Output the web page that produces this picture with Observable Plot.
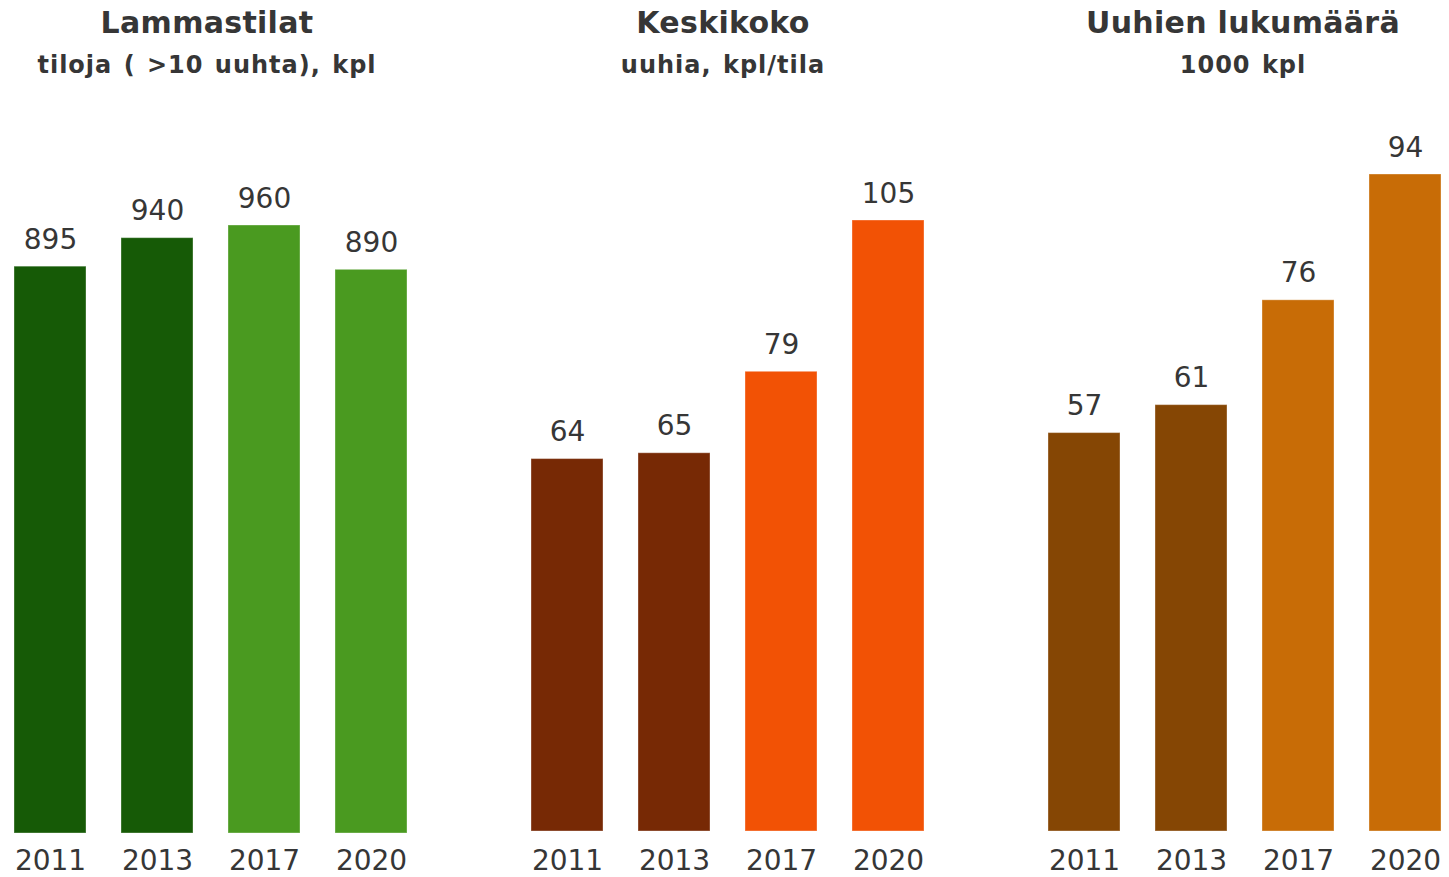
<!DOCTYPE html>
<html>
<head>
<meta charset="utf-8">
<script src="https://cdn.jsdelivr.net/npm/d3@7"></script>
<script src="https://cdn.jsdelivr.net/npm/@observablehq/plot@0.6"></script>
<style>
  body { margin: 0; background: #fff; }
  #wrap { position: relative; width: 1449px; height: 877px; overflow: hidden;
          font-family: "DejaVu Sans", Verdana, sans-serif; color: #363636; }
  .head { position: absolute; top: 0; width: 480px; height: 100px; text-align: center; }
  .title { position: absolute; left: 0; right: 0; top: 8px; font-size: 30px; line-height: 30px; font-weight: bold; letter-spacing: 0.3px; }
  .sub { position: absolute; left: 0; right: 0; top: 53px; font-size: 24px; line-height: 24px; font-weight: bold; letter-spacing: 1px; word-spacing: 2px; }
  .panel { position: absolute; top: 100px; width: 483px; height: 777px; }
  .panel svg { overflow: visible; }
</style>
</head>
<body>
<div id="wrap"></div>
<script>
// ---- data ----
const years = ["2011", "2013", "2017", "2020"];
const farms = [895, 940, 960, 890];          // Lammastilat, tiloja (>10 uuhta), kpl
const avgSize = [64, 65, 79, 105];           // Keskikoko, uuhia, kpl/tila
const ewes = [57, 61, 76, 94];               // Uuhien lukumäärä, 1000 kpl
const titles = ["Lammastilat", "Keskikoko", "Uuhien lukumäärä"];
const subtitles = ["tiloja ( >10 uuhta), kpl", "uuhia, kpl/tila", "1000 kpl"];

// ---- layout / style options ----
const panels = [
  { values: farms, colors: ["#165a06", "#165a06", "#4a9a20", "#4a9a20"],
    left: 0, marginLeft: 13, marginRight: 76, marginTop: 125, marginBottom: 44, tickPadding: 17, center: 207 },
  { values: avgSize, colors: ["#772905", "#772905", "#f25205", "#f25205"],
    left: 483, marginLeft: 47, marginRight: 42, marginTop: 120, marginBottom: 46, tickPadding: 19, center: 723 },
  { values: ewes, colors: ["#854604", "#854604", "#c86c06", "#c86c06"],
    left: 966, marginLeft: 81, marginRight: 8, marginTop: 74, marginBottom: 46, tickPadding: 19, center: 1243 }
];

const wrap = document.getElementById("wrap");

panels.forEach((p, i) => {
  const head = document.createElement("div");
  head.className = "head";
  head.style.left = (p.center - 240) + "px";
  const t = document.createElement("div");
  t.className = "title";
  t.textContent = titles[i];
  const s = document.createElement("div");
  s.className = "sub";
  s.textContent = subtitles[i];
  head.appendChild(t);
  head.appendChild(s);
  wrap.appendChild(head);

  const data = years.map((y, j) => ({ year: y, value: p.values[j] }));
  const chart = Plot.plot({
    width: 483,
    height: 777,
    marginLeft: p.marginLeft,
    marginRight: p.marginRight,
    marginTop: p.marginTop,
    marginBottom: p.marginBottom,
    style: { fontFamily: "DejaVu Sans, Verdana, sans-serif", fontSize: "28px", color: "#363636", background: "transparent", overflow: "visible" },
    x: { domain: years, paddingInner: 0.33, paddingOuter: 0, align: 0.5, label: null },
    y: { domain: [0, d3.max(p.values)], axis: null },
    color: { domain: years, range: p.colors },
    marks: [
      Plot.barY(data, { x: "year", y: "value", fill: "year", stroke: "#fff", strokeOpacity: 0.35, strokeWidth: 1 }),
      Plot.text(data, { x: "year", y: "value", text: d => String(d.value), lineAnchor: "bottom", dy: -18, fill: "#363636", fontSize: 28 }),
      Plot.axisX({ tickSize: 0, tickPadding: p.tickPadding, fontSize: 28, label: null })
    ]
  });
  const div = document.createElement("div");
  div.className = "panel";
  div.style.left = p.left + "px";
  div.appendChild(chart);
  wrap.appendChild(div);
});
</script>
</body>
</html>
